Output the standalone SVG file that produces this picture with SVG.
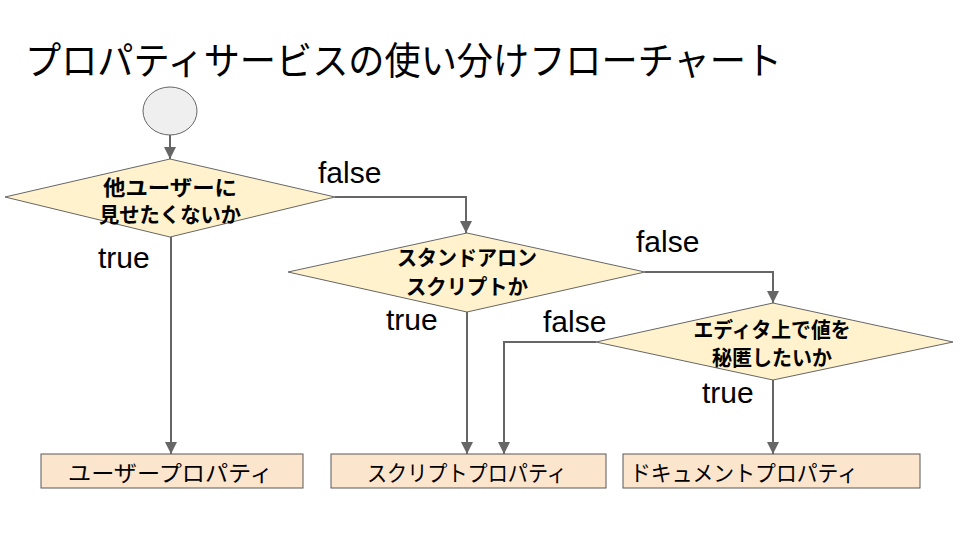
<svg xmlns="http://www.w3.org/2000/svg" width="960" height="540" viewBox="0 0 960 540">
<defs>
<marker id="arr" markerUnits="userSpaceOnUse" markerWidth="12" markerHeight="14" viewBox="0 0 12 14" refX="12" refY="6" orient="auto">
<path d="M0,0 L12,6 L0,12 z" fill="#666666"/>
</marker>
<style>
.title{font-family:"Noto Sans CJK JP","Noto Sans",sans-serif;font-size:38px;fill:#000}
.dia{fill:#fff2cc;stroke:#666666;stroke-width:1}
.box{fill:#fce5cd;stroke:#595959;stroke-width:1}
.dt{font-family:"Noto Sans CJK JP",sans-serif;font-weight:700;font-size:21px;fill:#000;text-anchor:middle}
.bt{font-family:"Noto Sans CJK JP",sans-serif;font-size:22px;fill:#000}
.lbl{font-family:"Liberation Sans",Arial,sans-serif;font-size:30px;fill:#000}
.con{fill:none;stroke:#666666;stroke-width:2;marker-end:url(#arr)}
</style>
</defs>
<rect width="960" height="540" fill="#ffffff"/>
<text class="title" x="25" y="74" textLength="757" lengthAdjust="spacingAndGlyphs">プロパティサービスの使い分けフローチャート</text>

<g id="start">
<ellipse cx="170" cy="111" rx="27" ry="24" fill="#efefef" stroke="#666666" stroke-width="1"/>
</g>

<g id="d1">
<polygon class="dia" points="5,197 170,159 335,197 170,237"/>
<text class="dt" x="170" y="195" textLength="134" lengthAdjust="spacingAndGlyphs">他ユーザーに</text>
<text class="dt" x="170" y="222" textLength="142" lengthAdjust="spacingAndGlyphs">見せたくないか</text>
</g>

<g id="d2">
<polygon class="dia" points="288,272 467,233 645,272 467,312"/>
<text class="dt" x="467" y="265" textLength="140" lengthAdjust="spacingAndGlyphs">スタンドアロン</text>
<text class="dt" x="467" y="294" textLength="122" lengthAdjust="spacingAndGlyphs">スクリプトか</text>
</g>

<g id="d3">
<polygon class="dia" points="596,342 773,303 953,342 773,380"/>
<text class="dt" x="772" y="337" textLength="157" lengthAdjust="spacingAndGlyphs">エディタ上で値を</text>
<text class="dt" x="772" y="365" textLength="120" lengthAdjust="spacingAndGlyphs">秘匿したいか</text>
</g>

<g id="b1">
<rect class="box" x="41" y="454" width="262" height="34"/>
<text class="bt" x="68" y="481" textLength="205" lengthAdjust="spacingAndGlyphs">ユーザープロパティ</text>
</g>
<g id="b2">
<rect class="box" x="331" y="454" width="275" height="34"/>
<text class="bt" x="367" y="481" textLength="200" lengthAdjust="spacingAndGlyphs">スクリプトプロパティ</text>
</g>
<g id="b3">
<rect class="box" x="623" y="454" width="297" height="34"/>
<text class="bt" x="630" y="481" textLength="228" lengthAdjust="spacingAndGlyphs">ドキュメントプロパティ</text>
</g>

<g id="connectors">
<path class="con" d="M170,135 L170,159"/>
<path class="con" d="M171,237 L171,454"/>
<path class="con" d="M335,197 L466,197 L466,233"/>
<path class="con" d="M467,312 L467,454"/>
<path class="con" d="M645,272 L773,272 L773,303"/>
<path class="con" d="M596,342 L504,342 L504,454"/>
<path class="con" d="M773,380 L773,454"/>
</g>

<g id="labels">
<text class="lbl" x="318" y="183">false</text>
<text class="lbl" x="98" y="268">true</text>
<text class="lbl" x="636" y="252">false</text>
<text class="lbl" x="386" y="330">true</text>
<text class="lbl" x="543" y="332">false</text>
<text class="lbl" x="702" y="403">true</text>
</g>
</svg>
